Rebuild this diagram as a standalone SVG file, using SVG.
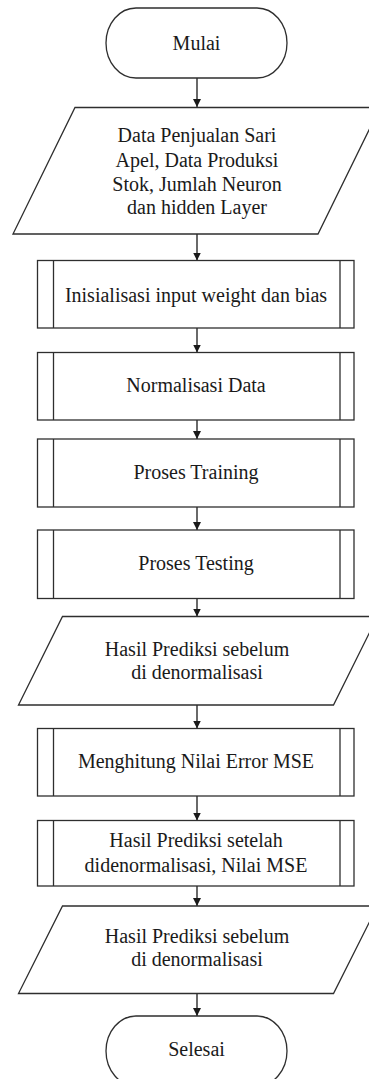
<svg xmlns="http://www.w3.org/2000/svg" width="369" height="1079" viewBox="0 0 369 1079">
<style>
.s{fill:#fff;stroke:#2e2e2e;stroke-width:1.3}
.l{fill:none;stroke:#2e2e2e;stroke-width:1.3}
.t{font-family:'Liberation Serif','Times New Roman',Tinos,'DejaVu Serif','Noto Serif',serif;font-size:20px;fill:#1a1a1a;text-anchor:middle}
.c{fill:none;stroke:#1a1a1a;stroke-width:1.3;marker-end:url(#ah)}
</style>
<defs>
<marker id="ah" markerUnits="userSpaceOnUse" markerWidth="10" markerHeight="8" refX="8" refY="4" orient="auto">
<path d="M0,0 L8,4 L0,8 Z" fill="#1a1a1a"/>
</marker>
</defs>
<rect width="369" height="1079" fill="#fff"/>
<g id="connectors">
<line class="c" x1="197" y1="78" x2="197" y2="107"/>
<line class="c" x1="197" y1="234" x2="197" y2="260.5"/>
<line class="c" x1="197" y1="328" x2="197" y2="352.5"/>
<line class="c" x1="197" y1="420" x2="197" y2="439"/>
<line class="c" x1="197" y1="507" x2="197" y2="530"/>
<line class="c" x1="197" y1="598.5" x2="197" y2="616.5"/>
<line class="c" x1="197" y1="705" x2="197" y2="728.5"/>
<line class="c" x1="197" y1="796" x2="197" y2="820.5"/>
<line class="c" x1="197" y1="886" x2="197" y2="906"/>
<line class="c" x1="197" y1="993.5" x2="197" y2="1016"/>
</g>
<g id="mulai">
<rect class="s" x="106" y="8" width="181" height="70" rx="30" ry="35"/>
<text class="t" x="196.5" y="50">Mulai</text>
</g>
<g id="input-data">
<polygon class="s" points="75,107.5 380,107.5 318,234 13,234"/>
<text class="t" x="197" y="142">Data Penjualan Sari</text>
<text class="t" x="197" y="166.5">Apel, Data Produksi</text>
<text class="t" x="197" y="191">Stok, Jumlah Neuron</text>
<text class="t" x="197" y="214">dan hidden Layer</text>
</g>
<g id="inisialisasi">
<rect class="s" x="37.5" y="260.5" width="316.5" height="67.5"/>
<line class="l" x1="53.5" y1="260.5" x2="53.5" y2="328"/>
<line class="l" x1="340" y1="260.5" x2="340" y2="328"/>
<text class="t" x="196" y="302">Inisialisasi input weight dan bias</text>
</g>
<g id="normalisasi">
<rect class="s" x="37.5" y="352.5" width="316.5" height="67.5"/>
<line class="l" x1="53.5" y1="352.5" x2="53.5" y2="420"/>
<line class="l" x1="340" y1="352.5" x2="340" y2="420"/>
<text class="t" x="196" y="392">Normalisasi Data</text>
</g>
<g id="training">
<rect class="s" x="37.5" y="439" width="316.5" height="68"/>
<line class="l" x1="53.5" y1="439" x2="53.5" y2="507"/>
<line class="l" x1="340" y1="439" x2="340" y2="507"/>
<text class="t" x="196" y="479">Proses Training</text>
</g>
<g id="testing">
<rect class="s" x="37.5" y="530" width="316.5" height="68.5"/>
<line class="l" x1="53.5" y1="530" x2="53.5" y2="598.5"/>
<line class="l" x1="340" y1="530" x2="340" y2="598.5"/>
<text class="t" x="196" y="570">Proses Testing</text>
</g>
<g id="hasil-sebelum-1">
<polygon class="s" points="62.5,616.5 377.5,616.5 333.5,705 18.5,705"/>
<text class="t" x="197" y="656">Hasil Prediksi sebelum</text>
<text class="t" x="197" y="679">di denormalisasi</text>
</g>
<g id="mse">
<rect class="s" x="37.5" y="728.5" width="316.5" height="67.5"/>
<line class="l" x1="53.5" y1="728.5" x2="53.5" y2="796"/>
<line class="l" x1="340" y1="728.5" x2="340" y2="796"/>
<text class="t" x="196" y="768">Menghitung Nilai Error MSE</text>
</g>
<g id="hasil-setelah">
<rect class="s" x="37.5" y="820.5" width="316.5" height="65.5"/>
<line class="l" x1="53.5" y1="820.5" x2="53.5" y2="886"/>
<line class="l" x1="340" y1="820.5" x2="340" y2="886"/>
<text class="t" x="196" y="847">Hasil Prediksi setelah</text>
<text class="t" x="196" y="872">didenormalisasi, Nilai MSE</text>
</g>
<g id="hasil-sebelum-2">
<polygon class="s" points="62.5,906 377.5,906 333.5,993.5 18.5,993.5"/>
<text class="t" x="197" y="943">Hasil Prediksi sebelum</text>
<text class="t" x="197" y="966">di denormalisasi</text>
</g>
<g id="selesai">
<rect class="s" x="106" y="1016" width="181" height="70" rx="30" ry="35"/>
<text class="t" x="196.5" y="1056">Selesai</text>
</g>
</svg>
